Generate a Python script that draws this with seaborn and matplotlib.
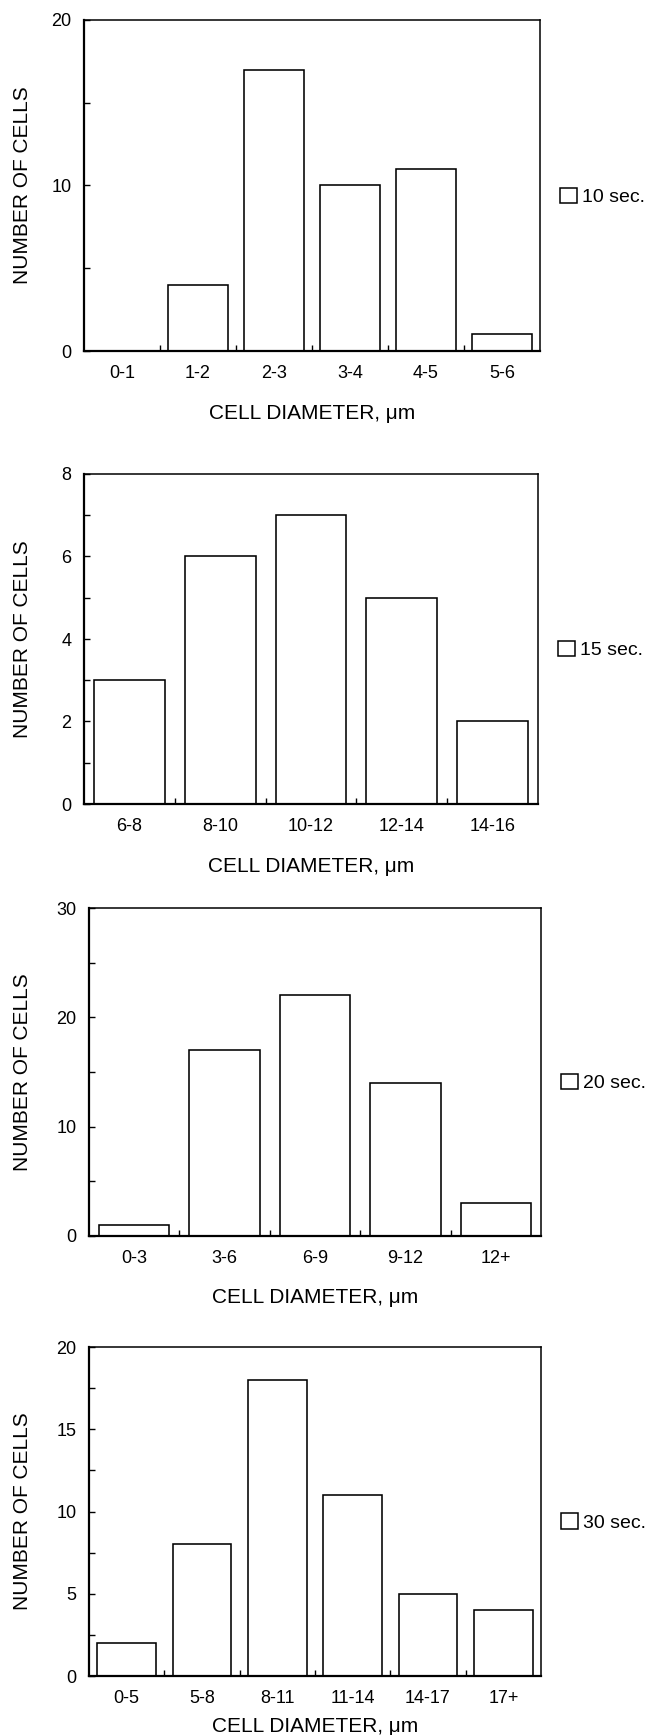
import numpy as np
import matplotlib.pyplot as plt
from matplotlib.patches import Patch
import seaborn as sns

# data
cats_10 = ['0-1', '1-2', '2-3', '3-4', '4-5', '5-6']
vals_10 = [0, 4, 17, 10, 11, 1]

cats_15 = ['6-8', '8-10', '10-12', '12-14', '14-16']
vals_15 = [3, 6, 7, 5, 2]

cats_20 = ['0-3', '3-6', '6-9', '9-12', '12+']
vals_20 = [1, 17, 22, 14, 3]

cats_30 = ['0-5', '5-8', '8-11', '11-14', '14-17', '17+']
vals_30 = [2, 8, 18, 11, 5, 4]

times = ['10 sec.', '15 sec.', '20 sec.', '30 sec.']
y_max = [20, 8, 30, 20]
y_step = [10, 2, 10, 5]

sns.set_style('ticks')
plt.rcParams['font.family'] = ['Liberation Sans', 'DejaVu Sans']
for k in ['text.color', 'axes.labelcolor', 'xtick.color', 'ytick.color', 'axes.edgecolor']:
    plt.rcParams[k] = 'black'

W, H = 648, 1735
fig = plt.figure(figsize=(W / 100, H / 100), dpi=100)

# axes boxes in pixels: left, right, top, bottom
boxes = [(84, 540, 20, 351), (84, 538, 474, 804), (89, 541, 908, 1236), (89, 541, 1347, 1676)]
xlabel_pad = [16, 16, 15, 7]

panels = [(cats_10, vals_10), (cats_15, vals_15), (cats_20, vals_20), (cats_30, vals_30)]

for i, ((cats, vals), (l, r, t, b)) in enumerate(zip(panels, boxes)):
    ax = fig.add_axes([l / W, 1 - b / H, (r - l) / W, (b - t) / H])
    sns.barplot(x=cats, y=vals, color='white', edgecolor='black', linewidth=1.15,
                width=0.78, saturation=1, errorbar=None, ax=ax)
    n = len(cats)
    ax.set_xlim(-0.5, n - 0.5)
    ax.set_ylim(0, y_max[i])
    ax.set_yticks(np.arange(0, y_max[i] + 1, y_step[i]))
    ax.set_yticks(np.arange(y_step[i] / 2, y_max[i], y_step[i]), minor=True)
    ax.set_xticks(range(n))
    ax.set_xticklabels(cats)
    ax.set_xticks(np.arange(0.5, n - 1, 1), minor=True)

    ax.tick_params(axis='both', which='both', direction='in', width=1.0)
    ax.tick_params(axis='y', which='both', length=4, pad=9, labelsize=13)
    ax.tick_params(axis='x', which='major', length=0, pad=10, labelsize=13)
    ax.tick_params(axis='x', which='minor', length=4)

    for s in ['left', 'bottom']:
        ax.spines[s].set_linewidth(1.6)
    for s in ['top', 'right']:
        ax.spines[s].set_linewidth(1.1)

    ax.set_xlabel('CELL DIAMETER, μm', fontsize=15, labelpad=xlabel_pad[i])
    ax.set_ylabel('NUMBER OF CELLS', fontsize=15, va='center')
    ax.yaxis.set_label_coords((23 - l) / (r - l), 0.5)

    h = Patch(facecolor='white', edgecolor='black', linewidth=1.1)
    ax.legend([h], [times[i]], loc='center left', bbox_to_anchor=(1 + 20 / (r - l), 0.466),
              frameon=False, fontsize=14, handlelength=0.85, handleheight=0.85,
              handletextpad=0.3, borderpad=0, borderaxespad=0)

fig.savefig('out.png', dpi=100)
